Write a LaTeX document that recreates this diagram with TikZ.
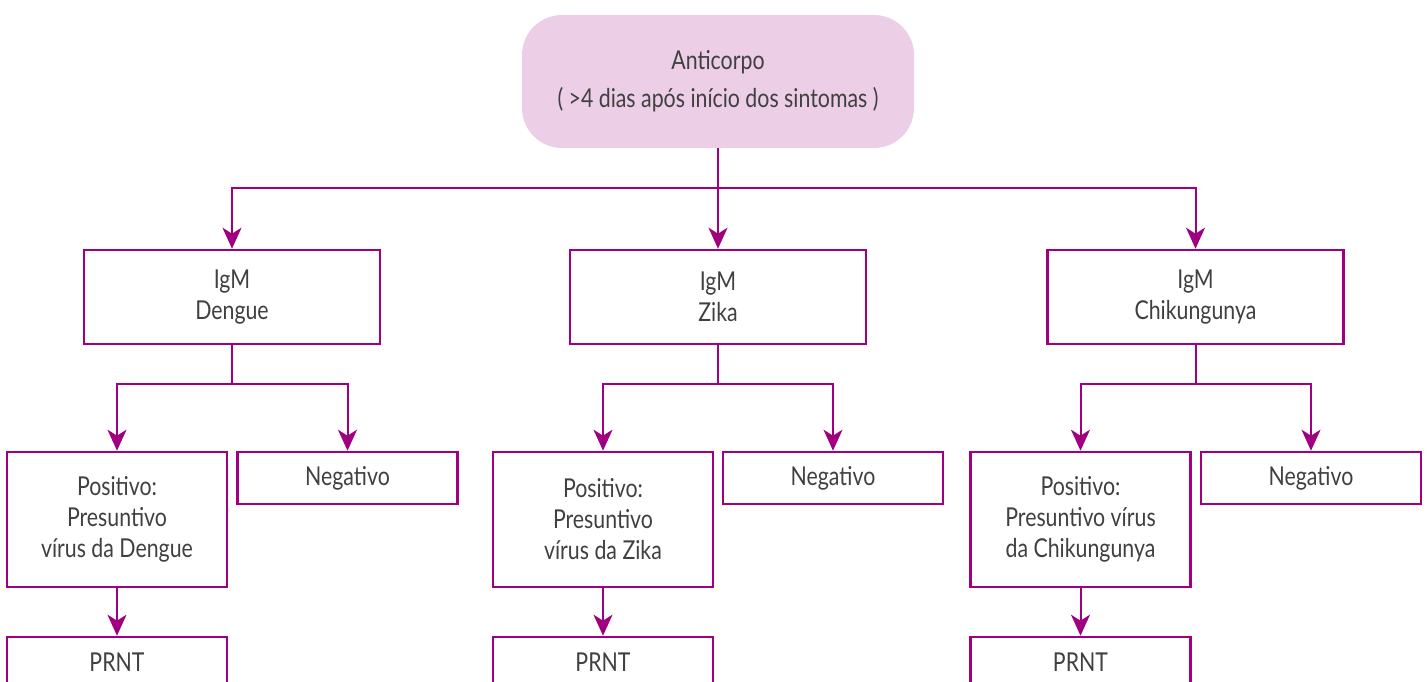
\documentclass[tikz,border=0pt]{standalone}
\usepackage{fontspec}
\setmainfont{Lato}[FakeStretch=0.82]
\usetikzlibrary{arrows.meta}
\definecolor{mag}{RGB}{160,0,128}
\definecolor{pinkfill}{RGB}{236,206,230}
\definecolor{txt}{RGB}{64,64,64}
\tikzset{
  box/.style={draw=mag, line width=2.6pt, rectangle, inner sep=0pt, align=center, text=txt, font=\fontsize{26}{31}\selectfont},
  conn/.style={draw=mag, line width=2pt},
  arr/.style={conn, -{Stealth[length=21pt,width=19pt,inset=6pt]}}
}
\begin{document}
\begin{tikzpicture}[x=1pt,y=-1pt]
\useasboundingbox (0,0) rectangle (1427,682);
\clip (0,0) rectangle (1427,682);
\node[fill=pinkfill, rounded corners=40pt, minimum width=392pt, minimum height=133pt, inner sep=0pt, text=txt, align=center, font=\fontsize{26}{38}\selectfont] (top) at (718,81.5) {Anticorpo\\( >4 dias após início dos sintomas )};
% level 2
\node[box, minimum width=296pt, minimum height=94pt] (igd) at (232,297) {IgM\\Dengue};
\node[box, minimum width=296pt, minimum height=94pt] (igz) at (718,297) {IgM\\Zika};
\node[box, minimum width=296pt, minimum height=94pt] (igc) at (1195.5,297) {IgM\\Chikungunya};
% positive
\node[box, minimum width=220pt, minimum height=135pt] (posd) at (117,519.5) {Positivo:\\Presuntivo\\vírus da Dengue};
\node[box, minimum width=220pt, minimum height=135pt] (posz) at (603,519.5) {Positivo:\\Presuntivo\\vírus da Zika};
\node[box, minimum width=220pt, minimum height=135pt] (posc) at (1080.5,519.5) {Positivo:\\Presuntivo vírus\\da Chikungunya};
% negative
\node[box, minimum width=220pt, minimum height=52pt] (negd) at (347.5,478) {Negativo};
\node[box, minimum width=220pt, minimum height=52pt] (negz) at (833,478) {Negativo};
\node[box, minimum width=220pt, minimum height=52pt] (negc) at (1311,478) {Negativo};
% PRNT
\node[box, minimum width=220pt, minimum height=50pt] (prd) at (117,662) {PRNT};
\node[box, minimum width=220pt, minimum height=50pt] (prz) at (603,662) {PRNT};
\node[box, minimum width=220pt, minimum height=50pt] (prc) at (1080.5,662) {PRNT};
% connectors
\coordinate (h0) at (718,188);
\draw[arr] (top.south) -- (igz.north);
\draw[arr] (h0) -| (igd.north);
\draw[arr] (h0) -| (igc.north);
\coordinate (hd) at (232,384);
\coordinate (hz) at (718,384);
\coordinate (hc) at (1195.5,384);
\draw[conn] (igd.south) -- (hd);
\draw[conn] (igz.south) -- (hz);
\draw[conn] (igc.south) -- (hc);
\draw[arr] (hd) -| (posd.north);
\draw[arr] (hd) -| (negd.north);
\draw[arr] (hz) -| (posz.north);
\draw[arr] (hz) -| (negz.north);
\draw[arr] (hc) -| (posc.north);
\draw[arr] (hc) -| (negc.north);
\draw[arr] (posd.south) -- (prd.north);
\draw[arr] (posz.south) -- (prz.north);
\draw[arr] (posc.south) -- (prc.north);
\end{tikzpicture}
\end{document}
